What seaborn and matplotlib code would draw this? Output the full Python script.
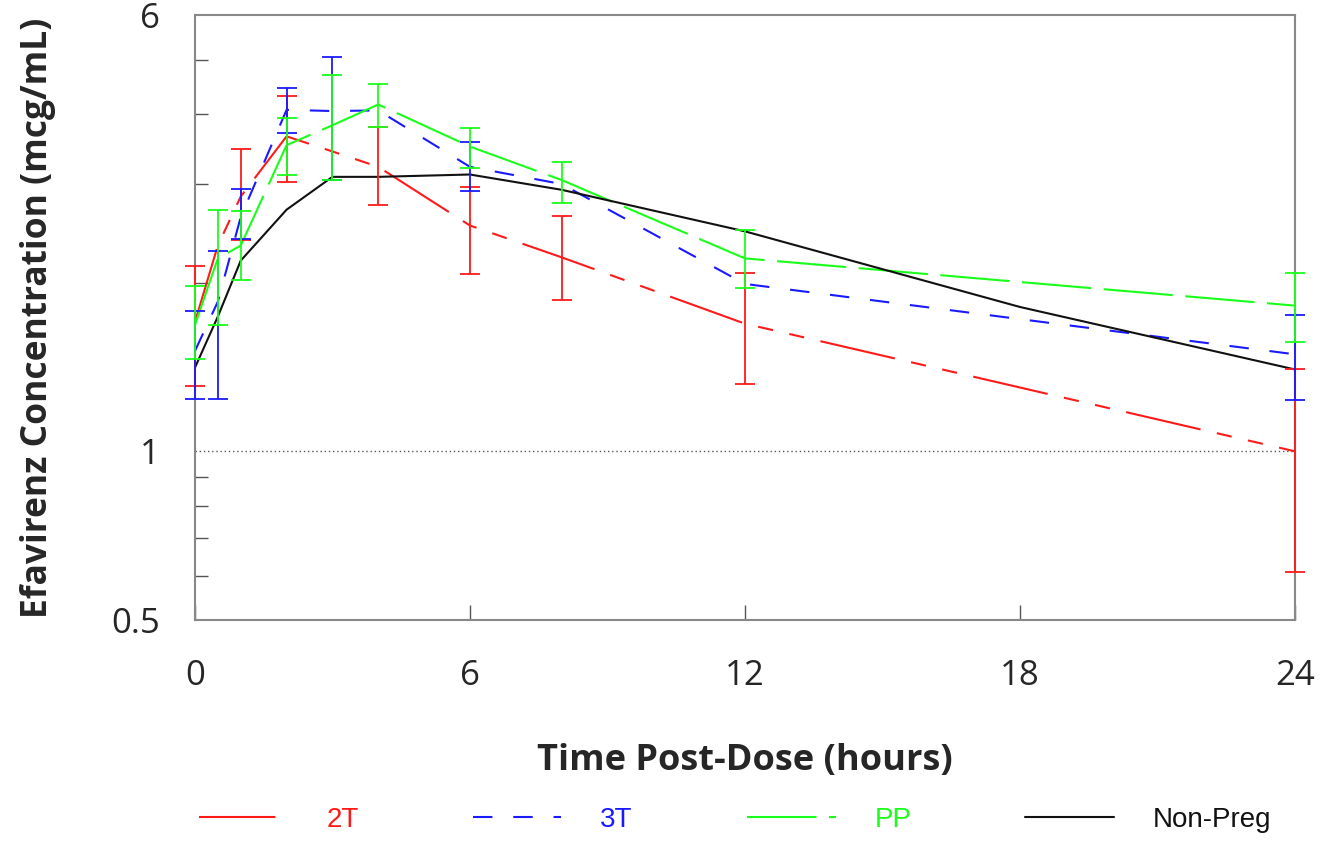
import numpy as np
import pandas as pd
import matplotlib
matplotlib.use("Agg")
import matplotlib.pyplot as plt
import seaborn as sns
from matplotlib.ticker import FixedLocator, NullFormatter, FixedFormatter

# series (mcg/mL)
times = [0, 0.5, 1, 2, 3, 4, 6, 8, 12, 24]
conc_2t = [1.70, 2.33, 2.85, 3.65, 3.43, 3.22, 2.53, 2.22, 1.69, 1.00]
conc_3t = [1.51, 1.85, 2.62, 4.07, 4.05, 4.06, 3.22, 3.00, 1.99, 1.49]
conc_pp = [1.68, 2.21, 2.33, 3.52, 3.82, 4.16, 3.50, 3.05, 2.21, 1.82]

times_np = [0, 0.5, 1, 2, 3, 4, 6, 8, 12, 18, 24]
conc_np = [1.41, 1.74, 2.19, 2.70, 3.09, 3.09, 3.12, 2.93, 2.47, 1.81, 1.40]

# error bars (only those visible in the reference)
err_t_2t = [0, 1, 2, 4, 6, 8, 12, 24]
err_lo_2t = [1.31, 2.38, 3.02, 2.75, 2.07, 1.86, 1.32, 0.61]
err_hi_2t = [2.14, 3.46, 4.31, 3.79, 2.96, 2.63, 2.08, 1.40]

err_t_3t = [0, 0.5, 1, 2, 3, 6, 24]
err_lo_3t = [1.24, 1.24, 2.39, 3.70, 3.05, 2.91, 1.235]
err_hi_3t = [1.78, 2.28, 2.94, 4.45, 5.05, 3.56, 1.75]

err_t_pp = [0, 0.5, 1, 2, 3, 4, 6, 8, 12, 24]
err_lo_pp = [1.46, 1.68, 2.02, 3.11, 3.05, 3.79, 3.20, 2.77, 1.96, 1.57]
err_hi_pp = [1.97, 2.70, 2.68, 3.94, 4.70, 4.53, 3.78, 3.29, 2.48, 2.08]

groups = ["2T", "3T", "PP", "Non-Preg"]
colors = {"2T": "#ff1a1a", "3T": "#1a1aff", "PP": "#1aff1a", "Non-Preg": "#111111"}
dash_styles = {"2T": (55, 12, 11, 12, 11, 12), "3T": (14, 15), "PP": (50, 9), "Non-Preg": ""}

sns.set_theme(style="white")
plt.rcParams["font.family"] = ["Open Sans", "DejaVu Sans"]
plt.rcParams["lines.scale_dashes"] = False

df = pd.concat([
    pd.DataFrame({"time": times, "conc": conc_2t, "group": "2T"}),
    pd.DataFrame({"time": times, "conc": conc_3t, "group": "3T"}),
    pd.DataFrame({"time": times, "conc": conc_pp, "group": "PP"}),
    pd.DataFrame({"time": times_np, "conc": conc_np, "group": "Non-Preg"}),
])

fig = plt.figure(figsize=(13.35, 8.42), dpi=100)
ax = fig.add_axes([0.146, 0.2637, 0.824, 0.718])

# error bars first, lines on top
for g, et, lo, hi in [("2T", err_t_2t, err_lo_2t, err_hi_2t),
                      ("3T", err_t_3t, err_lo_3t, err_hi_3t),
                      ("PP", err_t_pp, err_lo_pp, err_hi_pp)]:
    lo = np.array(lo)
    hi = np.array(hi)
    eb = ax.errorbar(et, lo, yerr=[np.zeros_like(lo), hi - lo], fmt="none",
                     ecolor=colors[g], elinewidth=1.3, capsize=7.5, capthick=1.3, zorder=4)
    for art in eb.lines[1] + eb.lines[2]:
        art.set_clip_on(False)

ax.axhline(1.0, color="#555555", lw=1.0, ls=(0, (1, 2)), zorder=1)

sns.lineplot(data=df, x="time", y="conc", hue="group", style="group",
             hue_order=groups, style_order=groups, palette=colors,
             dashes=dash_styles, lw=1.5, ax=ax, legend=False, zorder=3)

ax.set_yscale("log")
ax.set_ylim(0.5, 6)
ax.set_xlim(0, 24)

ax.yaxis.set_major_locator(FixedLocator([0.5, 1, 6]))
ax.yaxis.set_major_formatter(FixedFormatter(["0.5", "1", "6"]))
ax.yaxis.set_minor_locator(FixedLocator([0.6, 0.7, 0.8, 0.9, 2, 3, 4, 5]))
ax.yaxis.set_minor_formatter(NullFormatter())
ax.set_xticks([0, 6, 12, 18, 24])

ax.tick_params(axis="y", which="major", length=0, pad=25, labelsize=25)
ax.tick_params(axis="y", which="minor", direction="in", length=9, width=1, color="#555555", left=True)
ax.tick_params(axis="x", which="major", direction="in", length=11, width=1, color="#555555",
               bottom=True, pad=28, labelsize=25)

for sp in ax.spines.values():
    sp.set_color("#888888")
    sp.set_linewidth(1.5)
    sp.set_zorder(2)

ax.set_xlabel("Time Post-Dose (hours)", fontsize=26, fontweight="bold", labelpad=36)
ax.set_ylabel("Efavirenz Concentration (mcg/mL)", fontsize=25.5, fontweight="bold", labelpad=40)

# legend along the bottom
handles = []
for g in groups:
    h = plt.Line2D([], [], color=colors[g], lw=1.5)
    if dash_styles[g]:
        h.set_dashes(dash_styles[g])
    handles.append(h)
leg = fig.legend(handles, groups, loc="center left", bbox_to_anchor=(0.13, 0.026), ncol=4,
                 frameon=False, handlelength=3.2, handletextpad=1.4, columnspacing=4.1,
                 labelcolor="linecolor", prop={"family": "Liberation Sans", "size": 20})

fig.savefig("out.png", dpi=100)
